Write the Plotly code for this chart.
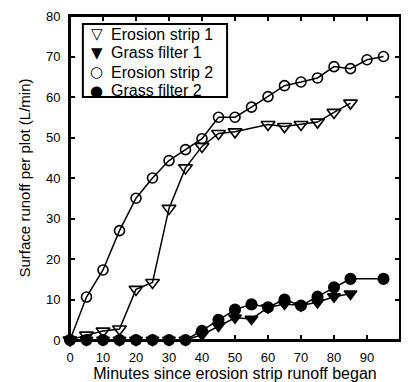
import plotly.graph_objects as go

minutes = [0, 5, 10, 15, 20, 25, 30, 35, 40, 45, 50, 55, 60, 65, 70, 75, 80, 85, 90, 95]

es1_x = [0, 5, 10, 15, 20, 25, 30, 35, 40, 45, 50, 60, 65, 70, 75, 80, 85]
es1_y = [0, 1.2, 2.2, 2.7, 12.5, 14.2, 32.5, 42.5, 47.8, 51.0, 51.4, 53.2, 52.7, 53.2, 53.8, 56.2, 58.5]

gf1_x = [0, 5, 10, 15, 20, 25, 30, 35, 40, 45, 50, 55, 60, 65, 70, 75, 80, 85]
gf1_y = [0, 0, 0, 0, 0, 0, 0, 0, 1.3, 3.5, 5.5, 5.2, 8.0, 8.9, 8.5, 9.3, 10.7, 11.4]

es2_x = minutes
es2_y = [0, 10.6, 17.3, 27.0, 35.0, 40.0, 44.3, 47.0, 49.7, 55.0, 55.0, 57.5, 60.1, 62.8, 63.7, 64.7, 67.5, 67.0, 69.2, 70.0]

gf2_x = [0, 5, 10, 15, 20, 25, 30, 35, 40, 45, 50, 55, 60, 65, 70, 75, 80, 85, 95]
gf2_y = [0, 0, 0, 0, 0, 0, 0, 0, 2.3, 5.0, 7.5, 8.8, 8.1, 10.0, 8.5, 10.7, 13.0, 15.1, 15.1]

legend_names = ["Erosion strip 1", "Grass filter 1", "Erosion strip 2", "Grass filter 2"]
legend_glyphs = ["\u25BD", "\u25BC", "\u25CB", "\u25CF"]

series = [
    (legend_names[0], es1_x, es1_y, "triangle-down-open", 12),
    (legend_names[1], gf1_x, gf1_y, "triangle-down", 11),
    (legend_names[2], es2_x, es2_y, "circle-open", 10),
    (legend_names[3], gf2_x, gf2_y, "circle", 10.5),
]

FONT = "Liberation Sans"

fig = go.Figure()
for name, xs, ys, sym, sz in series:
    fig.add_trace(go.Scatter(
        x=xs, y=ys, mode="lines+markers", name=name, showlegend=False,
        line=dict(color="black", width=1.5),
        marker=dict(symbol=sym, size=sz, color="black",
                    line=dict(color="black", width=1.6)),
        cliponaxis=False,
    ))

# plot frame and legend frame
shapes = [
    dict(type="rect", xref="paper", yref="paper", x0=0, x1=1, y0=0, y1=1,
         line=dict(color="black", width=2), fillcolor="rgba(0,0,0,0)", layer="above"),
    dict(type="rect", xref="paper", yref="paper",
         x0=0.039, x1=0.476, y0=0.75, y1=0.975,
         line=dict(color="black", width=2), fillcolor="white", layer="above"),
]
annotations = []
row_y = [0.944, 0.886, 0.827, 0.769]
for i, (nm, gl) in enumerate(zip(legend_names, legend_glyphs)):
    annotations.append(dict(xref="paper", yref="paper", x=0.081, y=row_y[i],
                            text=gl, showarrow=False, xanchor="center", yanchor="middle",
                            font=dict(family="DejaVu Sans", size=15, color="black")))
    annotations.append(dict(xref="paper", yref="paper", x=0.118, y=row_y[i],
                            text=nm, showarrow=False, xanchor="left", yanchor="middle",
                            font=dict(family=FONT, size=16, color="black")))

axis_common = dict(
    showline=True, linecolor="black", linewidth=2, mirror="allticks",
    ticks="inside", ticklen=5, tickwidth=1.5, tickcolor="black",
    showgrid=False, zeroline=False, automargin=False,
    tickfont=dict(family=FONT, size=13, color="black"),
)

# the page body adds an 8px offset, so the figure is 8px smaller with trimmed left/top margins
fig.update_layout(
    template="none",
    width=401, height=374,
    margin=dict(l=62, r=9, t=8, b=42, pad=0),
    plot_bgcolor="white", paper_bgcolor="white",
    font=dict(family=FONT, color="black"),
    showlegend=False,
    shapes=shapes,
    annotations=annotations,
    xaxis=dict(range=[0, 100], tickvals=list(range(0, 101, 10)),
               ticklabelstandoff=4,
               title=dict(text="Minutes since erosion strip runoff began",
                          font=dict(size=16), standoff=4),
               **axis_common),
    yaxis=dict(range=[0, 80], tickvals=list(range(0, 81, 10)),
               ticklabelstandoff=5,
               title=dict(text="Surface runoff per plot (L/min)",
                          font=dict(size=15), standoff=12),
               **axis_common),
)

fig.write_html("out.html")
